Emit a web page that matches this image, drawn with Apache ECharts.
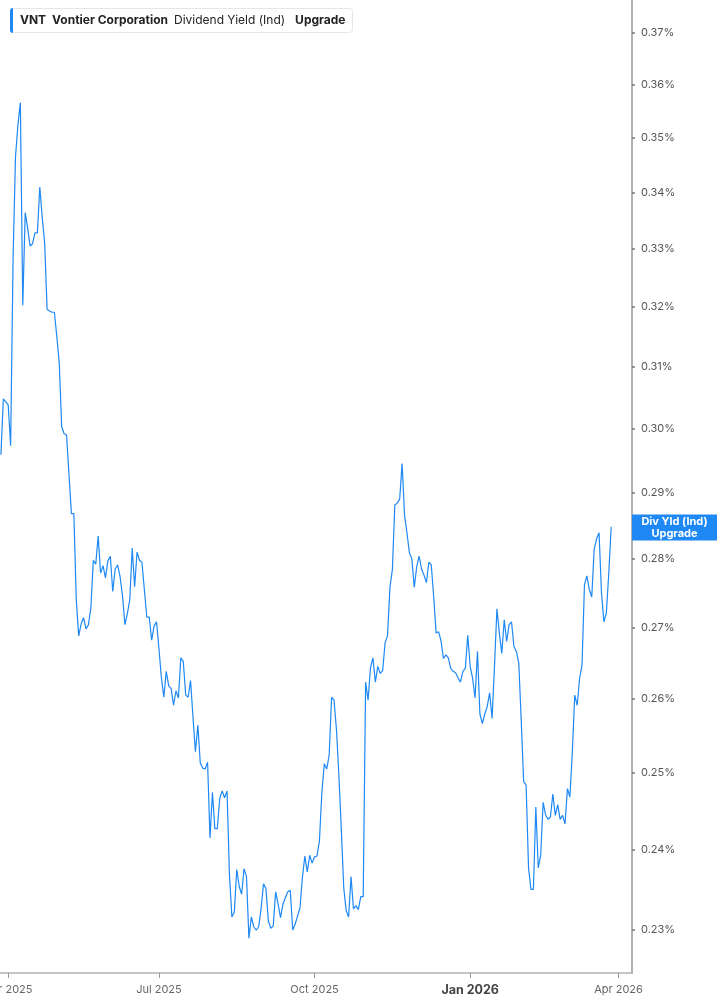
<!DOCTYPE html>
<html><head><meta charset="utf-8">
<script src="https://cdn.jsdelivr.net/npm/echarts@6/dist/echarts.min.js"></script>
<style>html,body{margin:0;padding:0;background:#fff}#c{width:717px;height:1005px}</style>
</head><body><div id="c"></div>
<script>
// first trading day shown and market holidays (to build the trading-day axis)
const startDate = '2025-03-27';
const holidays = ['2025-04-18','2025-05-26','2025-06-19','2025-07-04','2025-09-01','2025-11-27','2025-12-25','2026-01-01','2026-01-19','2026-02-16','2026-04-03'];

// VNT dividend yield (%), one value per trading day from 2025-03-27
const yieldValues = [
  0.2959,0.3048,0.3043,0.3038,0.2973,0.3281,0.3465,0.3524,0.3566,0.3203,
  0.3364,0.3337,0.3305,0.3309,0.3328,0.3328,0.3410,0.3355,0.3310,0.3196,
  0.3193,0.3191,0.3191,0.3150,0.3106,0.3003,0.2992,0.2990,0.2928,0.2868,
  0.2868,0.2740,0.2688,0.2705,0.2714,0.2698,0.2704,0.2728,0.2798,0.2792,
  0.2834,0.2779,0.2790,0.2772,0.2797,0.2804,0.2752,0.2785,0.2791,0.2774,
  0.2746,0.2704,0.2720,0.2740,0.2816,0.2759,0.2810,0.2798,0.2795,0.2755,
  0.2715,0.2715,0.2682,0.2702,0.2708,0.2670,0.2629,0.2602,0.2638,0.2618,
  0.2614,0.2591,0.2611,0.2601,0.2657,0.2652,0.2605,0.2602,0.2625,0.2575,
  0.2528,0.2564,0.2513,0.2506,0.2505,0.2514,0.2415,0.2474,0.2427,0.2427,
  0.2466,0.2476,0.2467,0.2476,0.2368,0.2316,0.2322,0.2375,0.2354,0.2344,
  0.2376,0.2366,0.2290,0.2316,0.2304,0.2300,0.2304,0.2326,0.2357,0.2351,
  0.2311,0.2302,0.2305,0.2347,0.2332,0.2315,0.2332,0.2340,0.2347,0.2349,
  0.2300,0.2307,0.2317,0.2327,0.2365,0.2392,0.2372,0.2393,0.2383,0.2391,
  0.2392,0.2411,0.2474,0.2512,0.2505,0.2523,0.2602,0.2598,0.2558,0.2497,
  0.2426,0.2352,0.2324,0.2316,0.2366,0.2326,0.2330,0.2325,0.2341,0.2341,
  0.2623,0.2598,0.2643,0.2657,0.2623,0.2645,0.2635,0.2639,0.2678,0.2688,
  0.2758,0.2784,0.2881,0.2884,0.2890,0.2945,0.2866,0.2839,0.2809,0.2800,
  0.2758,0.2788,0.2804,0.2785,0.2776,0.2765,0.2795,0.2791,0.2744,0.2692,
  0.2694,0.2681,0.2656,0.2661,0.2657,0.2642,0.2638,0.2636,0.2629,0.2623,
  0.2638,0.2642,0.2689,0.2645,0.2628,0.2601,0.2666,0.2579,0.2566,0.2579,
  0.2589,0.2608,0.2573,0.2645,0.2727,0.2692,0.2663,0.2711,0.2680,0.2704,
  0.2708,0.2673,0.2666,0.2649,0.2569,0.2488,0.2484,0.2377,0.2350,0.2350,
  0.2455,0.2377,0.2393,0.2461,0.2445,0.2439,0.2442,0.2472,0.2444,0.2458,
  0.2439,0.2444,0.2433,0.2479,0.2468,0.2527,0.2605,0.2591,0.2628,0.2647,
  0.2762,0.2775,0.2755,0.2744,0.2815,0.2830,0.2839,0.2750,0.2708,0.2721,0.2779,0.2848
];

const yTicks = [0.23,0.24,0.25,0.26,0.27,0.28,0.29,0.30,0.31,0.32,0.33,0.34,0.35,0.36,0.37];
const xTickMonths = ['2025-04','2025-07','2025-10','2026-01','2026-04'];
const xTickLabels = ['Apr 2025','Jul 2025','Oct 2025','Jan 2026','Apr 2026'];
const endLabelLines = ['Div Yld (Ind)','Upgrade'];

// build trading-day calendar
const dates = [];
let d = new Date(startDate + 'T00:00:00Z');
while (dates.length < yieldValues.length + 12) {
  const dow = d.getUTCDay();
  const s = d.toISOString().slice(0, 10);
  if (dow !== 0 && dow !== 6 && holidays.indexOf(s) < 0) dates.push(s);
  d.setUTCDate(d.getUTCDate() + 1);
}
const tickIdx = xTickMonths.map(m => dates.findIndex(s => s.startsWith(m)));
const seriesData = yieldValues.map((v, k) => [k, Math.log(v)]);
const lastVal = yieldValues[yieldValues.length - 1];

const FONT = 'Inter, "Noto Sans", sans-serif';
const BLUE = '#1e88f5';

const chart = echarts.init(document.getElementById('c'), null, {renderer: 'canvas'});
chart.setOption({
  animation: false,
  backgroundColor: '#fff',
  textStyle: {fontFamily: FONT},
  title: {
    left: 10, top: 8,
    padding: [0, 7, 0, 0],
    backgroundColor: '#fff',
    borderColor: '#e6e6e6', borderWidth: 1, borderRadius: 3,
    text: '{bar|}{a|VNT}{b|Vontier Corporation}{c|Dividend Yield (Ind)}{d|Upgrade}',
    textStyle: {
      fontFamily: FONT,
      rich: {
        bar: {width: 3, height: 25, backgroundColor: BLUE, borderRadius: [3,0,0,3]},
        a: {fontFamily: FONT, fontSize: 12, fontWeight: 'bold', color: '#222', padding: [0, 0, 0, 7], lineHeight: 25},
        b: {fontFamily: FONT, fontSize: 12, fontWeight: 'bold', color: '#222', padding: [0, 0, 0, 6], lineHeight: 25},
        c: {fontFamily: FONT, fontSize: 12, fontWeight: 'normal', color: '#222', padding: [0, 0, 0, 6], lineHeight: 25},
        d: {fontFamily: FONT, fontSize: 12, fontWeight: 'bold', color: '#222', padding: [0, 0, 0, 10], lineHeight: 25}
      }
    }
  },
  grid: {left: 0, right: 85, top: 0, bottom: 32, containLabel: false, outerBoundsMode: 'none'},
  tooltip: {
    trigger: 'axis',
    formatter: p => dates[p[0].value[0]] + '<br/>' + Math.exp(p[0].value[1]).toFixed(4) + '%'
  },
  xAxis: {
    type: 'value',
    min: -0.372, max: 259.55,
    axisLine: {show: true, onZero: false, lineStyle: {color: '#b0b0b0', width: 1.5}},
    axisTick: {show: true, customValues: tickIdx, length: 5, lineStyle: {color: '#999'}},
    axisLabel: {
      customValues: tickIdx,
      margin: 11,
      color: '#666', fontSize: 11, fontFamily: FONT,
      formatter: v => {
        const k = tickIdx.indexOf(Math.round(v));
        if (k < 0) return '';
        const t = xTickLabels[k];
        return t.indexOf('Jan') === 0 ? '{y|' + t + '}' : t;
      },
      rich: {y: {fontWeight: 'bold', fontSize: 12.5, color: '#444', fontFamily: FONT}}
    },
    splitLine: {show: false}
  },
  yAxis: {
    type: 'value',
    position: 'right',
    min: Math.log(0.22482), max: Math.log(0.37653),
    axisLine: {show: true, onZero: false, lineStyle: {color: '#b0b0b0', width: 2}},
    axisTick: {show: true, customValues: yTicks.map(v => Math.log(v)), length: 3, lineStyle: {color: '#777', width: 1.5}},
    axisLabel: {
      customValues: yTicks.map(v => Math.log(v)),
      formatter: v => Math.exp(v).toFixed(2) + '%',
      color: '#555', fontSize: 11, fontFamily: FONT, margin: 9
    },
    splitLine: {show: false}
  },
  series: [{
    type: 'line',
    data: seriesData,
    showSymbol: false,
    symbol: 'none',
    lineStyle: {color: BLUE, width: 1.2},
    markLine: {
      silent: true,
      symbol: 'none',
      lineStyle: {width: 0, color: 'rgba(0,0,0,0)'},
      data: [{yAxis: Math.log(lastVal)}],
      label: {
        show: true,
        position: 'end',
        distance: 0,
        offset: [0, -7],
        verticalAlign: 'middle',
        backgroundColor: BLUE,
        padding: [1, 0, 1, 0],
        formatter: () => '{t|' + endLabelLines[0] + '}\n{t|' + endLabelLines[1] + '}',
        rich: {t: {width: 85, align: 'center', color: '#fff', fontWeight: 'bold', fontSize: 11, lineHeight: 12, fontFamily: FONT}}
      }
    }
  }]
});
</script>
</body></html>
